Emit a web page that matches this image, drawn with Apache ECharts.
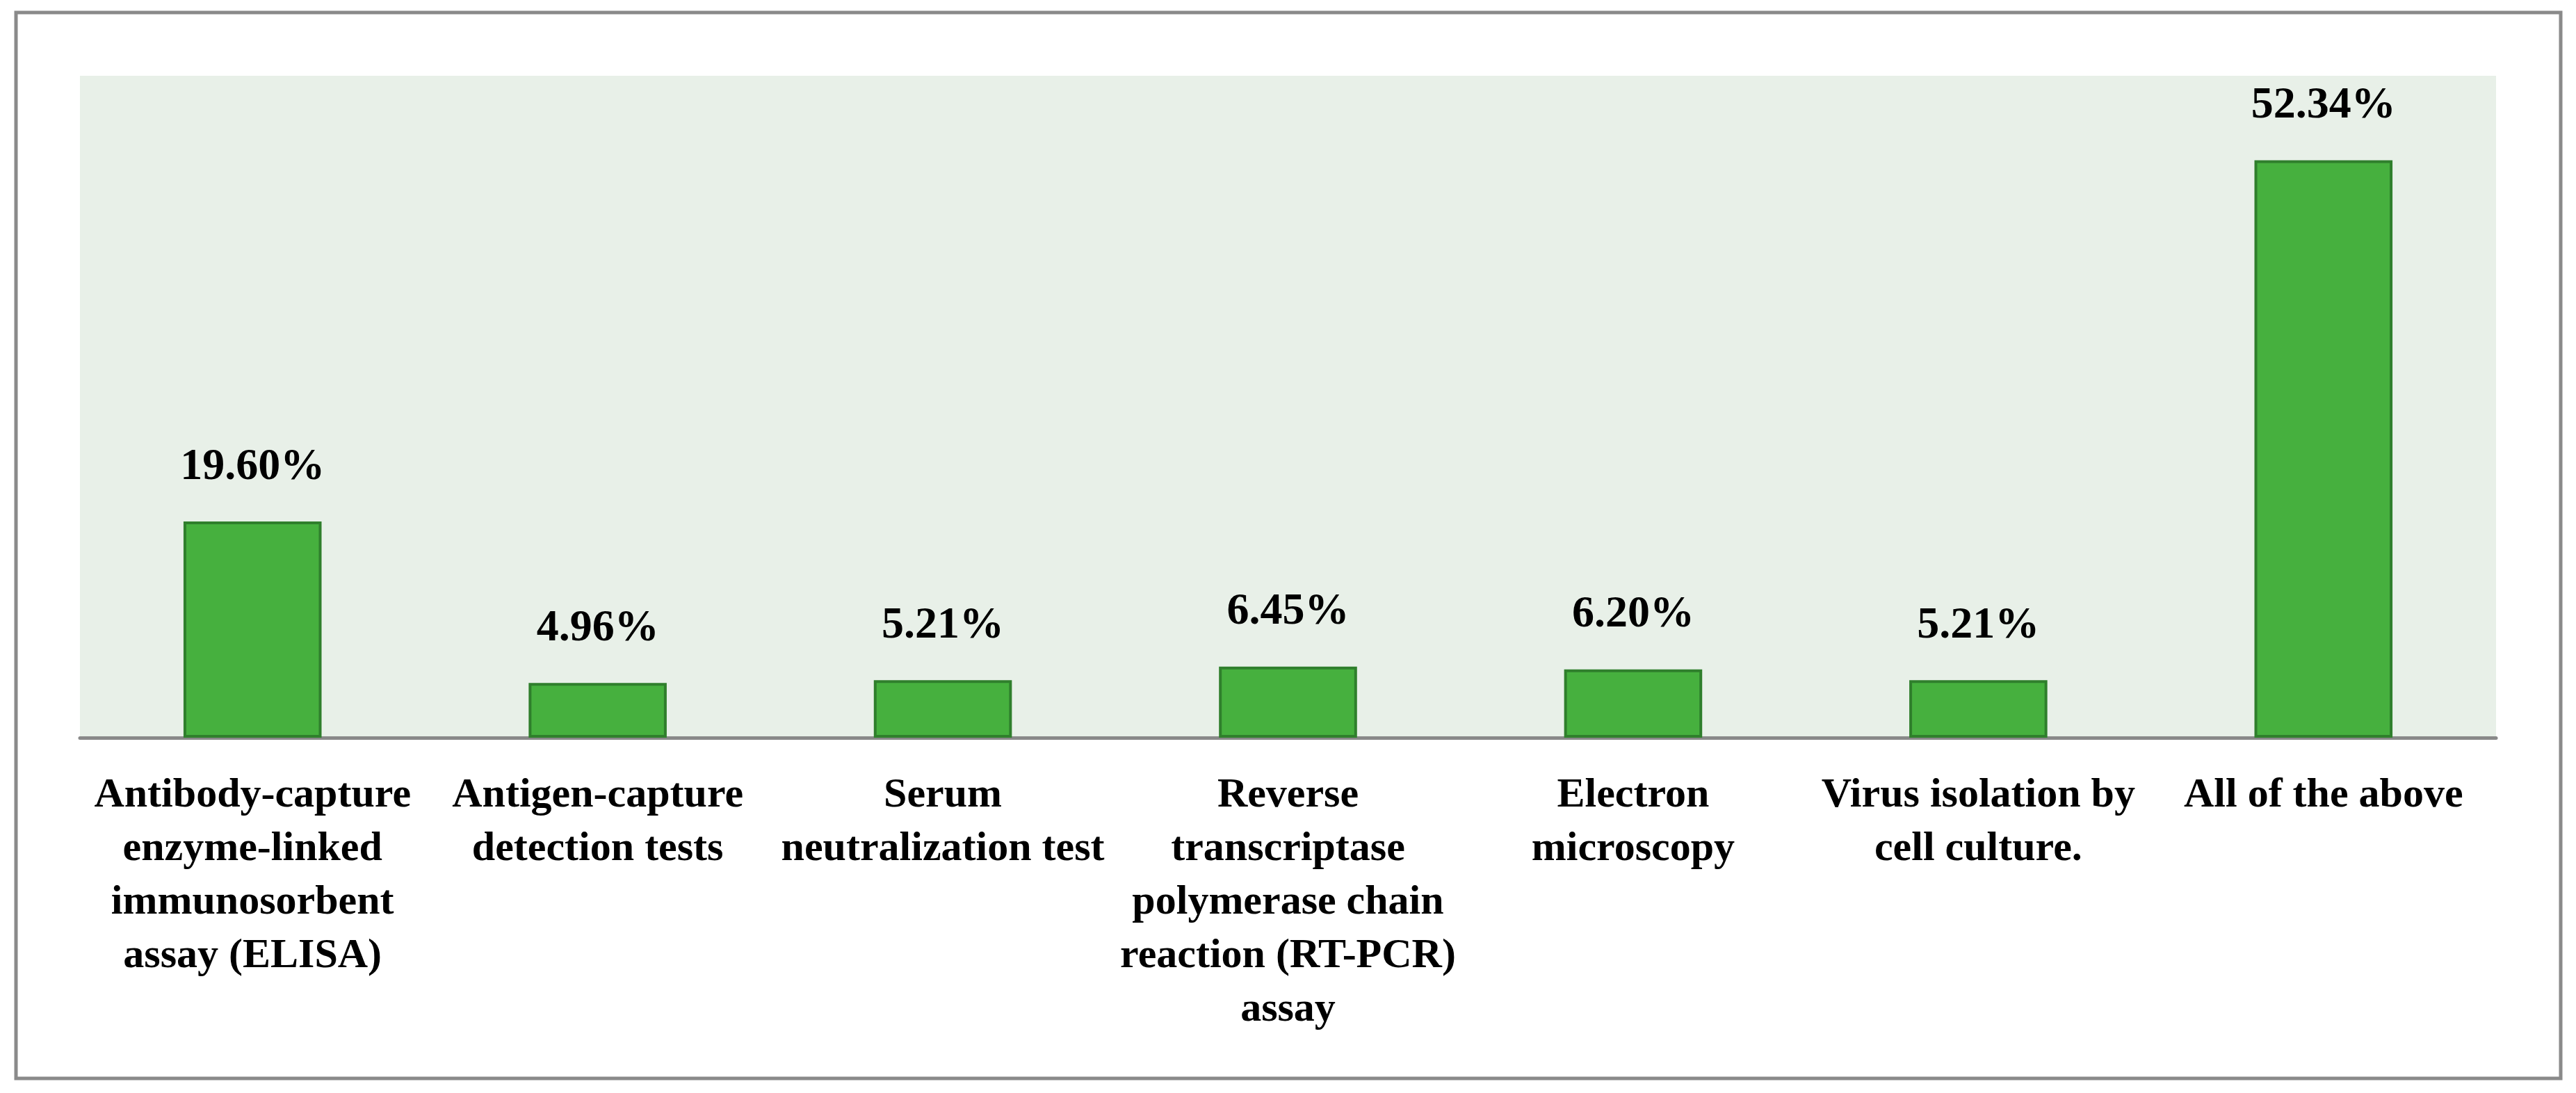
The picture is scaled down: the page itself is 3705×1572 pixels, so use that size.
<!DOCTYPE html>
<html>
<head>
<meta charset="utf-8">
<title>Diagnostic methods</title>
<script src="https://cdn.jsdelivr.net/npm/echarts@6/dist/echarts.min.js"></script>
<style>
  html, body { margin: 0; padding: 0; background: #fff; }
  #main { width: 3705px; height: 1572px; }
</style>
</head>
<body>
<div id="main"></div>
<script type="text/javascript">
    // categories (line breaks as in the original figure)
    var categories = [
        'Antibody-capture\nenzyme-linked\nimmunosorbent\nassay (ELISA)',
        'Antigen-capture\ndetection tests',
        'Serum\nneutralization test',
        'Reverse\ntranscriptase\npolymerase chain\nreaction (RT-PCR)\nassay',
        'Electron\nmicroscopy',
        'Virus isolation by\ncell culture.',
        'All of the above'
    ];
    var percentages = [19.60, 4.96, 5.21, 6.45, 6.20, 5.21, 52.34];

    var serif = 'Liberation Serif';

    var myChart = echarts.init(document.getElementById('main'));

    myChart.setOption({
        animation: false,
        backgroundColor: '#ffffff',
        graphic: [{
            type: 'rect',
            shape: { x: 23, y: 18, width: 3660, height: 1533 },
            style: { fill: 'none', stroke: '#8a8a8a', lineWidth: 5 },
            z: 100
        }],
        grid: {
            left: 115,
            right: 115,
            top: 109,
            bottom: 511,
            show: true,
            backgroundColor: '#e8f0e8',
            borderWidth: 0
        },
        xAxis: {
            type: 'category',
            data: categories,
            axisTick: { show: false },
            axisLine: { lineStyle: { color: '#898989', width: 5 } },
            axisLabel: {
                interval: 0,
                margin: 45,
                color: '#000',
                fontFamily: serif,
                fontWeight: 'bold',
                fontSize: 60,
                lineHeight: 77,
                align: 'center'
            }
        },
        yAxis: {
            type: 'value',
            min: 0,
            max: 60,
            show: false,
            splitLine: { show: false }
        },
        series: [{
            type: 'bar',
            data: percentages,
            barWidth: '40%',
            itemStyle: {
                color: '#46b03e',
                borderColor: '#2f7f2c',
                borderWidth: 4
            },
            label: {
                show: true,
                position: 'top',
                distance: 46,
                color: '#000',
                fontFamily: serif,
                fontWeight: 'bold',
                fontSize: 64,
                formatter: function (p) {
                    return p.value.toFixed(2) + '%';
                }
            }
        }]
    });
</script>
</body>
</html>
